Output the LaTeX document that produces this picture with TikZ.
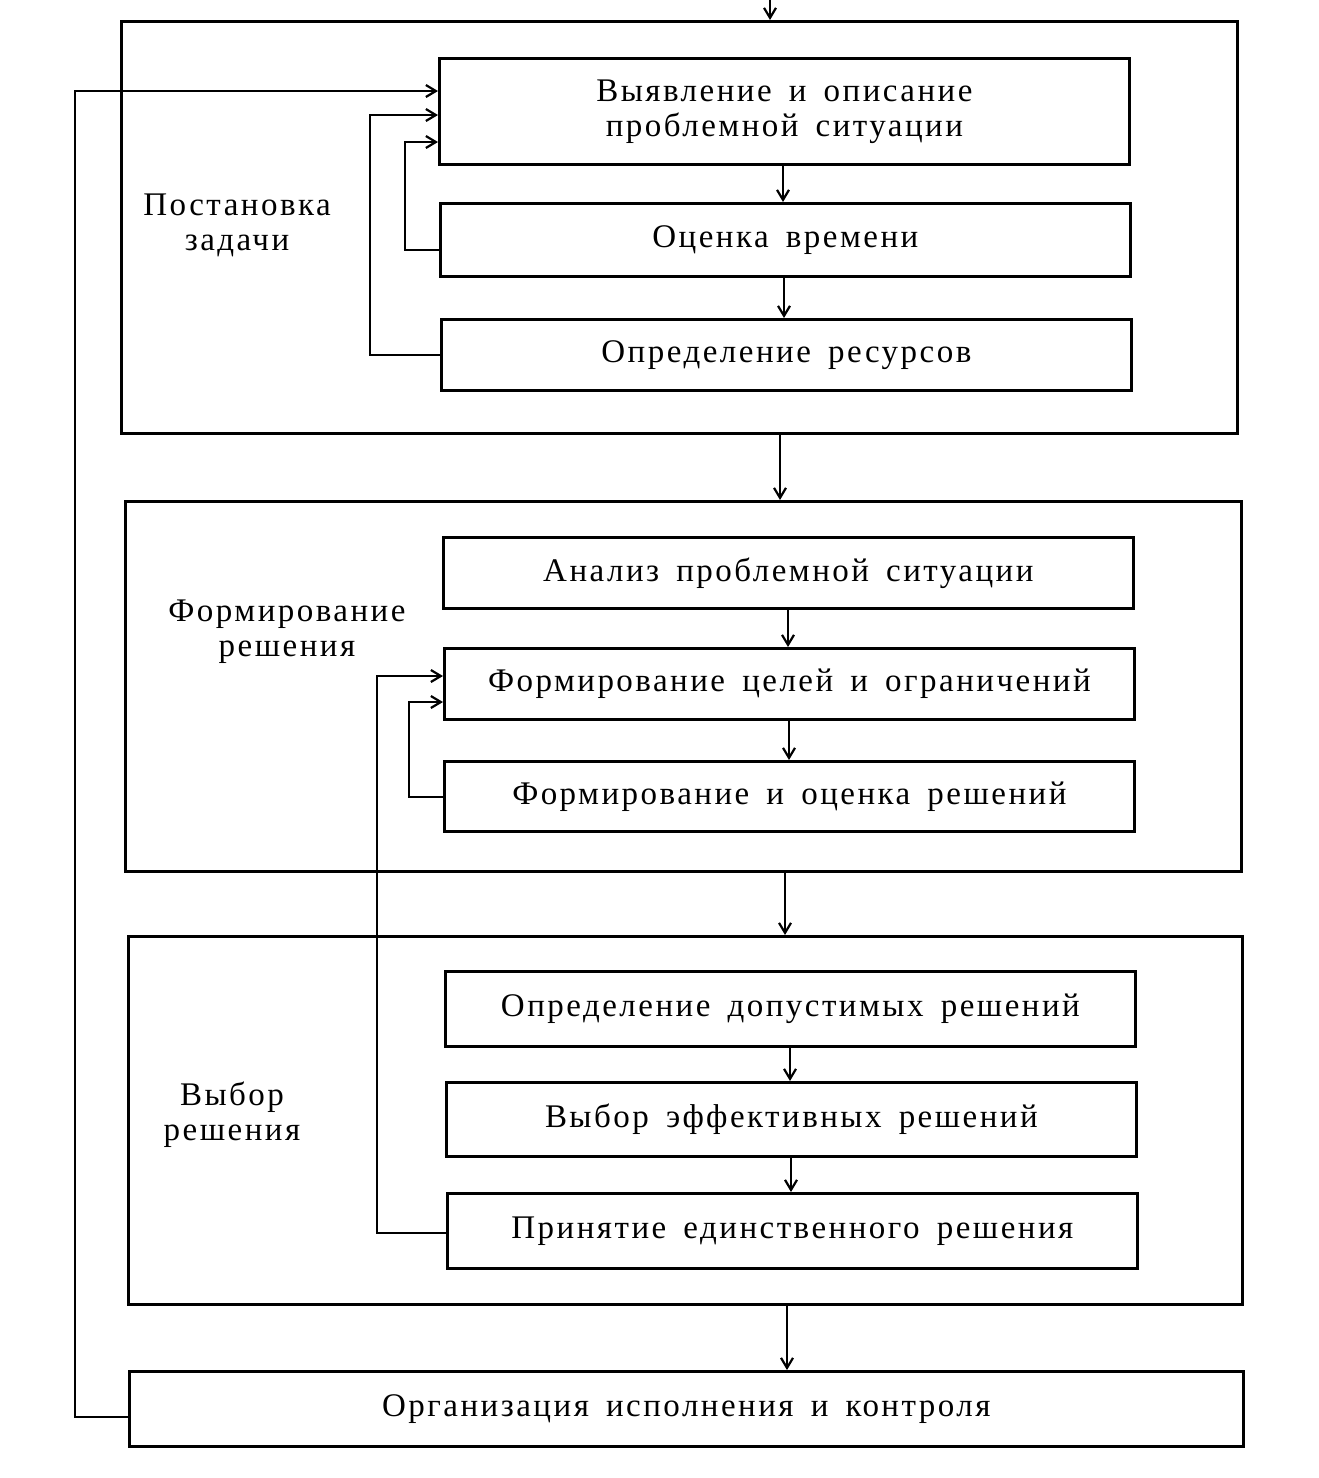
\documentclass[tikz,border=0pt]{standalone}
\usepackage{fontspec}
\setmainfont{Liberation Serif}[LetterSpace=7.5,WordSpace=1.6]
\usetikzlibrary{arrows.meta}
\begin{document}
\begin{tikzpicture}[x=0.5pt,y=-0.5pt,
  line width=1.4pt,
  box/.style={draw,inner sep=0pt,anchor=north west,font=\fontsize{16.5}{17.5}\selectfont,align=center},
  lbl/.style={inner sep=0pt,font=\fontsize{16.5}{17.5}\selectfont,align=center},
  arr/.style={-{Straight Barb[length=5pt,width=6pt,line width=1.1pt]}},
  conn/.style={line width=1.3pt}]
\useasboundingbox (0,0) rectangle (1318,1478);
% frames
\node[box,minimum width=558pt,minimum height=206pt] (f1) at (120,20) {};
\node[box,minimum width=558pt,minimum height=185pt] (f2) at (124,500) {};
\node[box,minimum width=557pt,minimum height=184pt] (f3) at (127,935) {};
\node[box,minimum width=557pt,minimum height=37.5pt] (org) at (128,1370) {Организация исполнения и контроля};
% inner boxes
\node[box,minimum width=345pt,minimum height=53pt] (b1) at (438,57) {Выявление и описание\\проблемной ситуации};
\node[box,minimum width=345pt,minimum height=36.5pt] (b2) at (439,202) {Оценка времени};
\node[box,minimum width=345pt,minimum height=35.5pt] (b3) at (440,318) {Определение ресурсов};
\node[box,minimum width=345pt,minimum height=35.5pt] (b4) at (442,536) {Анализ проблемной ситуации};
\node[box,minimum width=345pt,minimum height=35.5pt] (b5) at (443,647) {Формирование целей и ограничений};
\node[box,minimum width=345pt,minimum height=35pt] (b6) at (443,760) {Формирование и оценка решений};
\node[box,minimum width=345pt,minimum height=37.5pt] (b7) at (444,970) {Определение допустимых решений};
\node[box,minimum width=345pt,minimum height=37pt] (b8) at (445,1081) {Выбор эффективных решений};
\node[box,minimum width=345pt,minimum height=37.5pt] (b9) at (446,1192) {Принятие единственного решения};
% frame labels
\node[lbl] (l1) at (237,225) {Постановка\\задачи};
\node[lbl] (l2) at (287,632) {Формирование\\решения};
\node[lbl] (l3) at (232,1115) {Выбор\\решения};
% vertical arrows
\coordinate (top) at (770,0);
\draw[arr] (top) -- (top |- f1.north);
\draw[arr] (b1.south -| 783,0) -- (b2.north -| 783,0);
\draw[arr] (b2.south -| 784,0) -- (b3.north -| 784,0);
\draw[arr] (f1.south -| 780,0) -- (f2.north -| 780,0);
\draw[arr] (b4.south -| 788,0) -- (b5.north -| 788,0);
\draw[arr] (b5.south -| 789,0) -- (b6.north -| 789,0);
\draw[arr] (f2.south -| 785,0) -- (f3.north -| 785,0);
\draw[arr] (b7.south -| 790,0) -- (b8.north -| 790,0);
\draw[arr] (b8.south -| 791,0) -- (b9.north -| 791,0);
\draw[arr] (f3.south -| 787,0) -- (org.north -| 787,0);
% feedback loops
\draw[arr,conn] (b2.west |- 0,250) -- (405,250) -- (405,142) -- (b1.west |- 0,142);
\draw[arr,conn] (b3.west |- 0,355) -- (370,355) -- (370,115) -- (b1.west |- 0,115);
\draw[arr,conn] (org.west |- 0,1417) -- (75,1417) -- (75,91) -- (b1.west |- 0,91);
\draw[arr,conn] (b6.west |- 0,797) -- (409,797) -- (409,702) -- (b5.west |- 0,702);
\draw[arr,conn] (b9.west |- 0,1233) -- (377,1233) -- (377,676) -- (b5.west |- 0,676);
\end{tikzpicture}
\end{document}
